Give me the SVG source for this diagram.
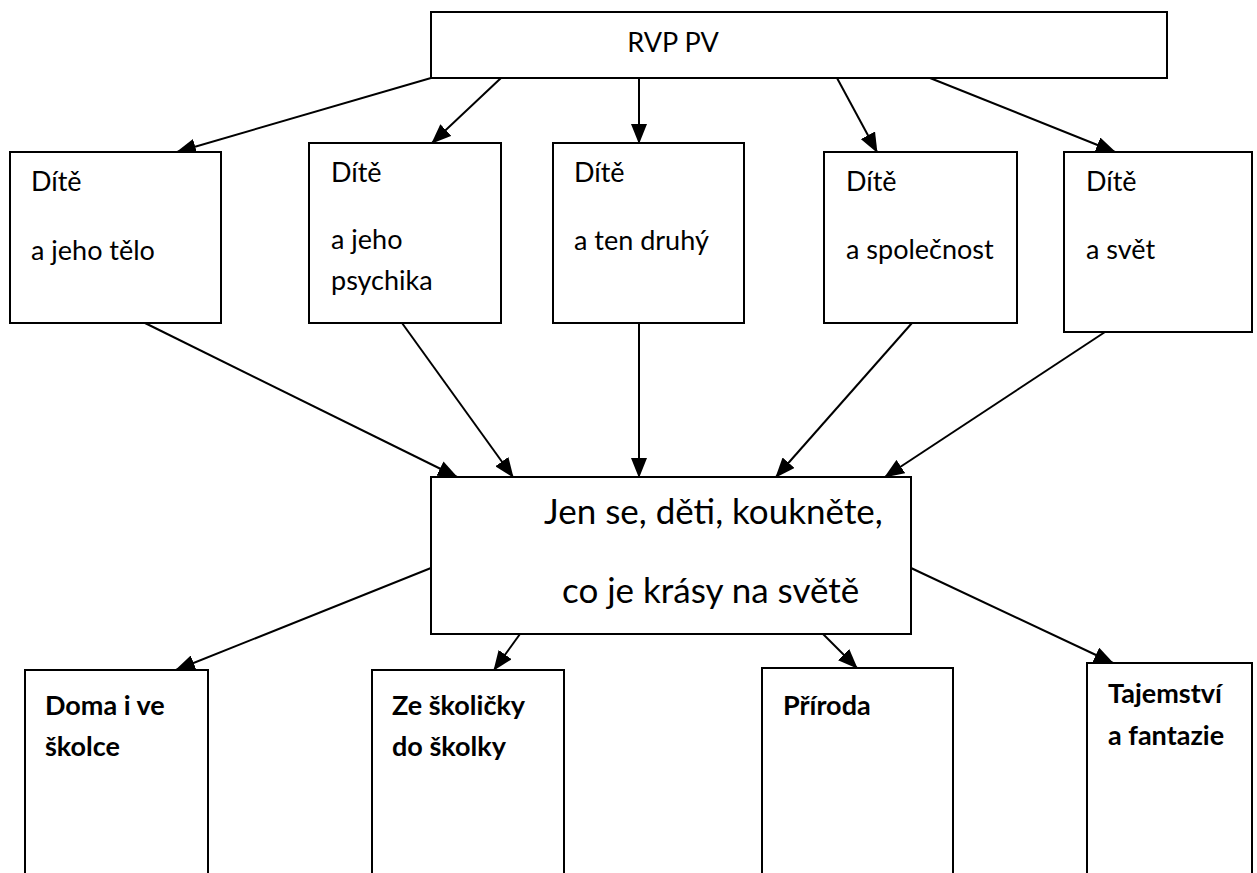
<svg xmlns="http://www.w3.org/2000/svg" width="1257" height="873" viewBox="0 0 1257 873">
<style>
.box{fill:#fff;stroke:#000;stroke-width:2}
.t{font-family:Lato,"Liberation Sans",sans-serif;font-size:27px;fill:#000}
.b{font-family:Lato,"Liberation Sans",sans-serif;font-size:27px;font-weight:bold;fill:#000}
.c{font-family:Lato,"Liberation Sans",sans-serif;font-size:35px;fill:#000}
.e{stroke:#000;stroke-width:2;fill:none;marker-end:url(#ah)}
</style>
<defs>
<marker id="ah" markerWidth="10" markerHeight="8" refX="9.5" refY="4" orient="auto" markerUnits="strokeWidth">
<path d="M0,0 L10,4 L0,8 Z" fill="#000"/>
</marker>
</defs>
<rect width="1257" height="873" fill="#fff"/>
<g id="connectors">
<line class="e" x1="431" y1="78" x2="177" y2="152"/>
<line class="e" x1="501" y1="78" x2="432" y2="143"/>
<line class="e" x1="639" y1="78" x2="639" y2="143"/>
<line class="e" x1="837" y1="78" x2="877" y2="152"/>
<line class="e" x1="930" y1="78" x2="1115" y2="152"/>
<line class="e" x1="145" y1="323" x2="457" y2="477"/>
<line class="e" x1="402" y1="323" x2="513" y2="477"/>
<line class="e" x1="639" y1="323" x2="639" y2="477"/>
<line class="e" x1="912" y1="323" x2="776" y2="477"/>
<line class="e" x1="1105" y1="332" x2="885" y2="477"/>
<line class="e" x1="431" y1="568" x2="176" y2="670"/>
<line class="e" x1="520" y1="634" x2="494" y2="670"/>
<line class="e" x1="823" y1="634" x2="857" y2="668"/>
<line class="e" x1="911" y1="568" x2="1113" y2="663"/>
</g>
<g id="rvp">
<rect class="box" x="431" y="12" width="736" height="66"/>
<text class="t" x="673" y="52" text-anchor="middle">RVP PV</text>
</g>
<g id="telo">
<rect class="box" x="10" y="152" width="211" height="171"/>
<text class="t" x="31" y="191">Dítě</text>
<text class="t" x="31" y="260">a jeho tělo</text>
</g>
<g id="psychika">
<rect class="box" x="309" y="143" width="192" height="180"/>
<text class="t" x="331" y="182">Dítě</text>
<text class="t" x="331" y="249">a jeho</text>
<text class="t" x="331" y="290">psychika</text>
</g>
<g id="druhy">
<rect class="box" x="553" y="143" width="191" height="180"/>
<text class="t" x="574" y="182">Dítě</text>
<text class="t" x="574" y="250">a ten druhý</text>
</g>
<g id="spolecnost">
<rect class="box" x="824" y="152" width="193" height="171"/>
<text class="t" x="846" y="191">Dítě</text>
<text class="t" x="846" y="259">a společnost</text>
</g>
<g id="svet">
<rect class="box" x="1064" y="152" width="188" height="180"/>
<text class="t" x="1086" y="191">Dítě</text>
<text class="t" x="1086" y="259">a svět</text>
</g>
<g id="center">
<rect class="box" x="431" y="477" width="480" height="157"/>
<text class="c" x="544" y="524">Jen se, děti, koukněte,</text>
<text class="c" x="562" y="603">co je krásy na světě</text>
</g>
<g id="doma">
<rect class="box" x="25" y="670" width="183" height="220"/>
<text class="b" x="45" y="715">Doma i ve</text>
<text class="b" x="45" y="756">školce</text>
</g>
<g id="skolicky">
<rect class="box" x="372" y="670" width="192" height="220"/>
<text class="b" x="392" y="715">Ze školičky</text>
<text class="b" x="392" y="756">do školky</text>
</g>
<g id="priroda">
<rect class="box" x="762" y="668" width="191" height="220"/>
<text class="b" x="783" y="715">Příroda</text>
</g>
<g id="tajemstvi">
<rect class="box" x="1087" y="663" width="165" height="230"/>
<text class="b" x="1108" y="703">Tajemství</text>
<text class="b" x="1108" y="745">a fantazie</text>
</g>
</svg>
